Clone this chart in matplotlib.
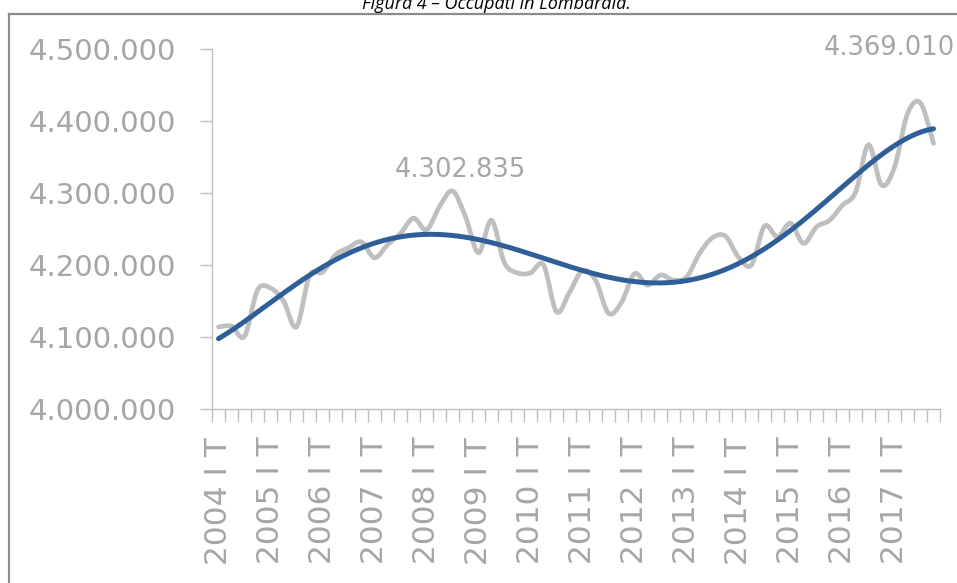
import numpy as np
import matplotlib
matplotlib.use("Agg")
import matplotlib.pyplot as plt
from matplotlib.path import Path
from matplotlib.patches import PathPatch
from matplotlib.lines import Line2D

# ---- data ----
years = list(range(2004, 2018))
quarters = ["I T", "II T", "III T", "IV T"]
categories = [f"{y} {q}" for y in years for q in quarters]

occupati = [4114000, 4115000, 4101000, 4165000,
            4168000, 4150000, 4114000, 4185000,
            4190000, 4214000, 4224000, 4232000,
            4210000, 4228000, 4244000, 4265000,
            4249000, 4281000, 4302835, 4267000,
            4217000, 4262000, 4203000, 4189000,
            4189000, 4200000, 4135000, 4162000,
            4192000, 4179000, 4133000, 4148000,
            4188000, 4172000, 4186000, 4179000,
            4183000, 4216000, 4238000, 4240000,
            4211000, 4200000, 4254000, 4239000,
            4258000, 4230000, 4253000, 4262000,
            4283000, 4301000, 4367000, 4311000,
            4336000, 4410000, 4425000, 4369010]

# polynomial trend line
tendenza = [4097000, 4110000, 4122000, 4135000,
            4147000, 4160000, 4174000, 4185000,
            4196000, 4208000, 4217000, 4225000,
            4231000, 4235000, 4239000, 4242000,
            4243000, 4243000, 4241000, 4239000,
            4235000, 4231000, 4225000, 4221000,
            4214000, 4208000, 4201000, 4197000,
            4192000, 4188000, 4183000, 4181000,
            4178000, 4177000, 4177000, 4178000,
            4180000, 4183000, 4189000, 4194000,
            4201000, 4210000, 4219000, 4232000,
            4246000, 4261000, 4276000, 4293000,
            4308000, 4325000, 4342000, 4357000,
            4368000, 4376000, 4382000, 4388000]
trend_order = 5

labelled_points = [18, 55]


def smooth_path(xv, yv):
    verts = [(xv[0], yv[0])]
    codes = [Path.MOVETO]
    n = len(xv)
    for i in range(n - 1):
        p0 = np.array([xv[max(i - 1, 0)], yv[max(i - 1, 0)]])
        p1 = np.array([xv[i], yv[i]])
        p2 = np.array([xv[i + 1], yv[i + 1]])
        p3 = np.array([xv[min(i + 2, n - 1)], yv[min(i + 2, n - 1)]])
        c1 = p1 + (p2 - p0) / 6.0
        c2 = p2 - (p3 - p1) / 6.0
        verts += [tuple(c1), tuple(c2), tuple(p2)]
        codes += [Path.CURVE4] * 3
    return Path(verts, codes)


# ---- figure ----
W, H = 957, 583
fig = plt.figure(figsize=(W / 100, H / 100), dpi=100)
ax = fig.add_axes([212 / W, 1 - 409 / H, (940 - 212) / W, (409 - 49) / H])

x = np.arange(len(occupati), dtype=float)

ax.add_patch(PathPatch(smooth_path(x, np.array(occupati, float)), facecolor="none",
                       edgecolor="#BFBFBF", lw=3.4, capstyle="round",
                       joinstyle="round", zorder=2))

# polynomial trend (smooth curve through the read trend values)
coef = np.polyfit(x, np.array(tendenza, float), trend_order)
xt = np.linspace(x[0], x[-1], 500)
ax.plot(xt, np.polyval(coef, xt), color="#2F5F98", lw=3.6,
        solid_capstyle="round", zorder=3)

# data labels
label_color = "#A6A6A6"
offsets = {18: (8, 21), 55: (-44, 95)}
for idx in labelled_points:
    txt = f"{occupati[idx]:,}".replace(",", ".")
    ax.annotate(txt, xy=(idx, occupati[idx]), xytext=offsets[idx],
                textcoords="offset pixels", ha="center", va="center",
                fontsize=18.5, color=label_color, annotation_clip=False,
                family="DejaVu Sans")

# axes
ax.set_xlim(-0.5, len(occupati) - 0.5)
ax.set_ylim(4000000, 4500000)
yt = np.arange(4000000, 4500001, 100000)
ax.set_yticks(yt)
ax.set_yticklabels([f"{int(v):,}".replace(",", ".") for v in yt],
                   fontsize=21, color=label_color)

major = np.arange(0, len(occupati), 4)
ax.set_xticks(major)
ax.set_xticklabels([categories[i] for i in major], rotation=90,
                   fontsize=22.5, color=label_color)
ax.set_xticks(np.arange(-0.5, len(occupati), 1.0), minor=True)

spine_c = "#BFBFBF"
for s in ["top", "right"]:
    ax.spines[s].set_visible(False)
for s in ["left", "bottom"]:
    ax.spines[s].set_color(spine_c)
    ax.spines[s].set_linewidth(1.0)
ax.tick_params(axis="y", which="major", direction="out", length=9,
               color=spine_c, width=1.0, pad=17)
ax.tick_params(axis="x", which="major", length=0, pad=20)
ax.tick_params(axis="x", which="minor", direction="out", length=9.5,
               color=spine_c, width=1.0)
ax.set_facecolor("none")

# outer chart border
fig.add_artist(Line2D([8.5 / W, 8.5 / W], [0, 1 - 14 / H], transform=fig.transFigure,
                      color="#8C8C8C", lw=1.6))
fig.add_artist(Line2D([8.5 / W, 1.0], [1 - 14 / H, 1 - 14 / H], transform=fig.transFigure,
                      color="#8C8C8C", lw=1.6))

# title (partially cut at top, as in the original)
fig.text(496 / W, 1 - 9 / H, "Figura 4 – Occupati in Lombardia.", ha="center",
         va="baseline", fontsize=13, style="italic", family="Open Sans",
         color="#000000")

fig.savefig("out.png", dpi=100)
